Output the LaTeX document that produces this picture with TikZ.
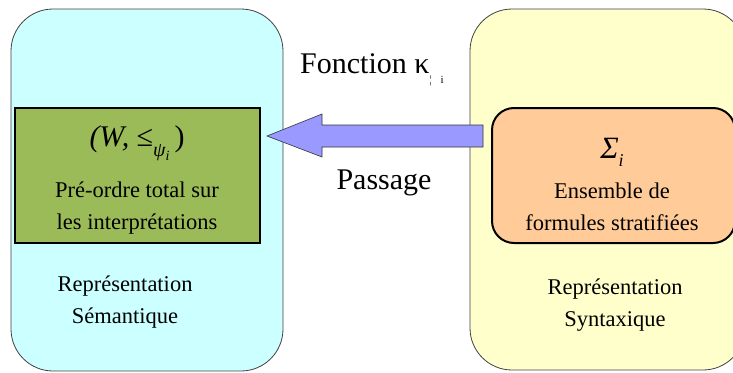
\documentclass[tikz,border=0pt]{standalone}
\usepackage{fontspec}
\setmainfont{Liberation Serif}
\begin{document}
\begin{tikzpicture}[x=1pt,y=-1pt,
  panel/.style={draw=black!75,line width=0.8pt,rounded corners=42pt},
  inner/.style={draw=black,line width=2pt},
  txt/.style={font=\fontsize{22.5}{31.5}\selectfont,align=center,inner sep=0pt},
  big/.style={font=\fontsize{30}{34}\selectfont,inner sep=0pt}]
\useasboundingbox (0,0) rectangle (733,372);
\begin{scope}
\clip (0,0) rectangle (733,372);
\draw[panel,fill={rgb,255:red,204;green,255;blue,255}] (11,9) rectangle (283,371);
\draw[panel,fill={rgb,255:red,255;green,255;blue,204}] (470,9) rectangle (745,370);
\draw[inner,fill={rgb,255:red,155;green,187;blue,89}] (15,108) rectangle (260,243);
\draw[inner,rounded corners=22pt,fill={rgb,255:red,255;green,204;blue,153}] (492,108) rectangle (735,243);
\end{scope}
\node[txt] (sem1) at (137,143) {\fontsize{30}{32}\selectfont\itshape (W, \upshape≤\raisebox{-10pt}{\fontsize{20}{20}\selectfont\itshape ψ\raisebox{-4pt}{\fontsize{14}{14}\selectfont i}}\,)};
\node[txt] (sem2) at (137,208) {Pré-ordre total sur\\les interprétations};
\node[txt] (syn1) at (612,152) {\fontsize{31}{32}\selectfont\itshape Σ\raisebox{-8pt}{\fontsize{18}{18}\selectfont i}};
\node[txt] (syn2) at (612,207) {Ensemble de\\formules stratifiées};
\node[txt] (lab1) at (125,302) {Représentation\\Sémantique};
\node[txt] (lab2) at (615,305) {Représentation\\Syntaxique};
\node[big,anchor=west] (fon) at (300,70) {Fonction κ\raisebox{-10pt}{\fontsize{11}{12}\selectfont ¦\hspace{9pt}i}};
\node[big] (pas) at (384,183) {Passage};
\coordinate (tip) at (267,136);
\draw[fill={rgb,255:red,153;green,153;blue,255},draw=black!80,line width=0.6pt]
  (483,125) -- (322,125) -- (322,114) -- (tip) -- (322,157) -- (322,147) -- (483,147) -- cycle;
\end{tikzpicture}
\end{document}
